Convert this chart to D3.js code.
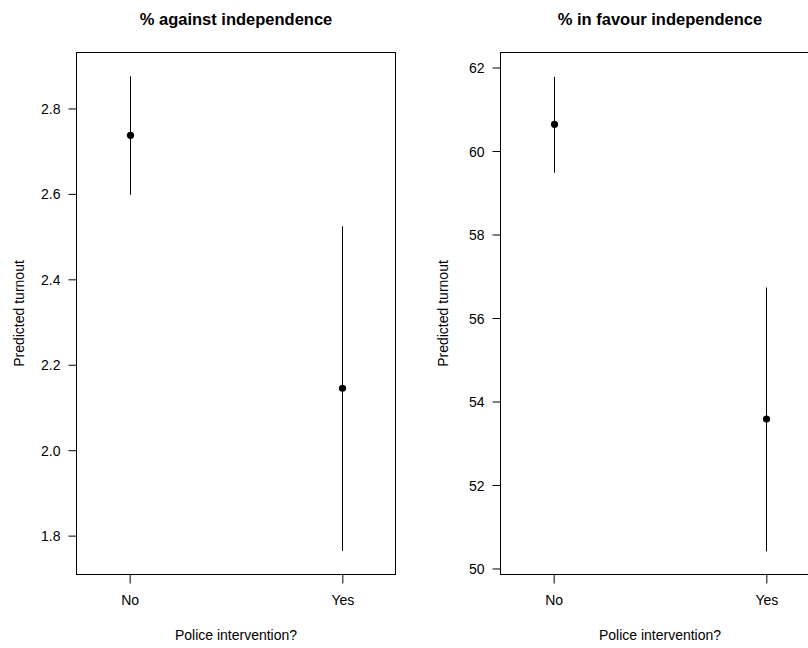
<!DOCTYPE html>
<html>
<head>
<meta charset="utf-8">
<script src="https://cdn.jsdelivr.net/npm/d3@7"></script>
<style>
html,body{margin:0;padding:0;background:#fff;}
svg{display:block;}
text{font-family:"Liberation Sans",Arial,Helvetica,sans-serif;fill:#000;}
</style>
</head>
<body>
<svg id="chart" width="808" height="648"></svg>
<script>
// ---- data ----
const categories = ["No", "Yes"];

const againstEst = [2.737, 2.145];
const againstLo  = [2.598, 1.764];
const againstHi  = [2.875, 2.524];
const againstTicks = [1.8, 2.0, 2.2, 2.4, 2.6, 2.8];
const againstDomain = [1.709, 2.931];

const favourEst = [60.64, 53.58];
const favourLo  = [59.48, 50.41];
const favourHi  = [61.78, 56.73];
const favourTicks = [50, 52, 54, 56, 58, 60, 62];
const favourDomain = [49.856, 62.36];

const titles = ["% against independence", "% in favour independence"];
const xLabel = "Police intervention?";
const yLabel = "Predicted turnout";

// ---- drawing ----
const svg = d3.select("#chart");
const boxTop = 52.5, boxBottom = 574.5;
const boxW = 319;

const panels = [
  {left: 76.5, title: titles[0], est: againstEst, lo: againstLo, hi: againstHi, ticks: againstTicks, domain: againstDomain, fmt: d3.format(".1f")},
  {left: 500.5, title: titles[1], est: favourEst, lo: favourLo, hi: favourHi, ticks: favourTicks, domain: favourDomain, fmt: d3.format("d")}
];

panels.forEach(p => {
  const g = svg.append("g");
  const x = d3.scalePoint().domain(categories).range([p.left, p.left + boxW]).padding(0.25);
  const y = d3.scaleLinear().domain(p.domain).range([boxBottom, boxTop]);
  const cx = p.left + boxW / 2;

  // box
  g.append("rect")
    .attr("x", p.left).attr("y", boxTop)
    .attr("width", boxW).attr("height", boxBottom - boxTop)
    .attr("fill", "none").attr("stroke", "#000").attr("stroke-width", 1);

  // y axis
  const ya = d3.axisLeft(y).tickValues(p.ticks).tickFormat(p.fmt).tickSize(8).tickPadding(8);
  const yg = g.append("g").attr("transform", `translate(${p.left},0)`).call(ya);
  yg.select(".domain").remove();
  yg.selectAll("line").attr("stroke", "#000");
  yg.selectAll("text").style("font-size", "14px").attr("dy", "0.36em");

  // x axis
  const xa = d3.axisBottom(x).tickSize(9).tickPadding(12);
  const xg = g.append("g").attr("transform", `translate(0,${boxBottom})`).call(xa);
  xg.select(".domain").remove();
  xg.selectAll("line").attr("stroke", "#000");
  xg.selectAll("text").style("font-size", "14px").attr("dy", "0.71em");

  // CI lines
  g.selectAll(".ci").data(categories).enter().append("line")
    .attr("x1", d => Math.round(x(d)) + 0.5).attr("x2", d => Math.round(x(d)) + 0.5)
    .attr("y1", (d, i) => y(p.lo[i])).attr("y2", (d, i) => y(p.hi[i]))
    .attr("stroke", "#000").attr("stroke-width", 1);

  // points
  g.selectAll(".pt").data(categories).enter().append("circle")
    .attr("cx", d => Math.round(x(d)) + 0.5)
    .attr("cy", (d, i) => y(p.est[i]))
    .attr("r", 3.6).attr("fill", "#000");

  // title
  g.append("text").attr("x", cx).attr("y", 25).attr("text-anchor", "middle")
    .style("font-size", "16.5px").style("font-weight", "bold").text(p.title);

  // x label
  g.append("text").attr("x", cx).attr("y", 640).attr("text-anchor", "middle")
    .style("font-size", "14px").text(xLabel);

  // y label
  const ylx = p.left - 53;
  g.append("text")
    .attr("transform", `translate(${ylx},${(boxTop + boxBottom) / 2}) rotate(-90)`)
    .attr("text-anchor", "middle")
    .style("font-size", "14px").text(yLabel);
});
</script>
</body>
</html>
